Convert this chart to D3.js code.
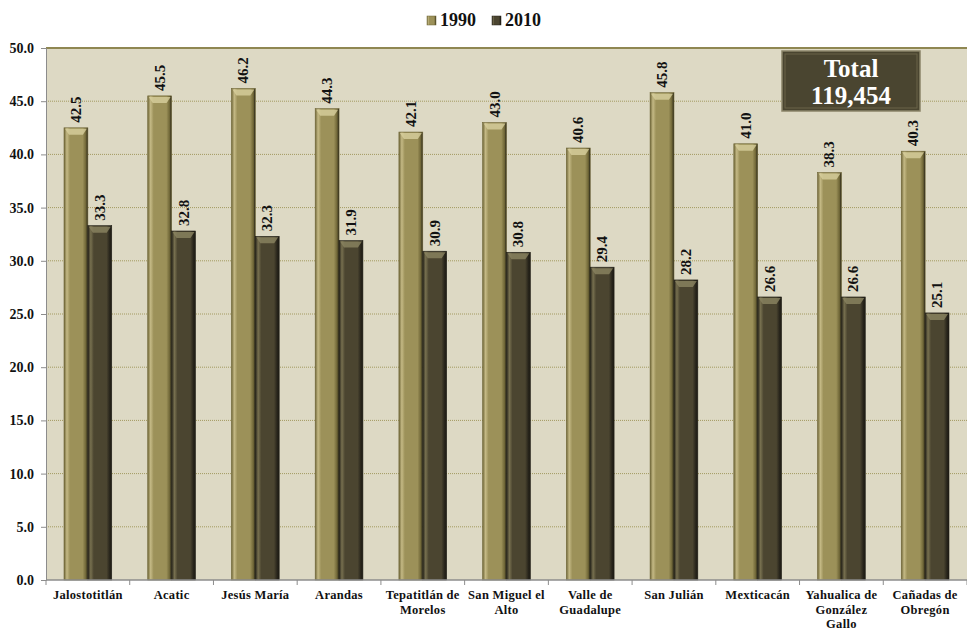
<!DOCTYPE html>
<html lang="es">
<head>
<meta charset="UTF-8">
<title>1990 / 2010</title>
<script src="https://d3js.org/d3.v7.min.js"></script>
<style>
  body { margin: 0; background: #fff; }
  text { font-family: "Liberation Serif", "Times New Roman", serif; font-weight: bold; }
</style>
</head>
<body>
<div class="canvas"></div>
<script>
  const categories = ['Jalostotitlán', 'Acatic', 'Jesús María', 'Arandas', 'Tepatitlán de Morelos',
    'San Miguel el Alto', 'Valle de Guadalupe', 'San Julián', 'Mexticacán',
    'Yahualica de González Gallo', 'Cañadas de Obregón']
  const series = ['1990', '2010']
  const v1990 = [42.5, 45.5, 46.2, 44.3, 42.1, 43.0, 40.6, 45.8, 41.0, 38.3, 40.3]
  const v2010 = [33.3, 32.8, 32.3, 31.9, 30.9, 30.8, 29.4, 28.2, 26.6, 26.6, 25.1]
  const yTicks = [0, 5, 10, 15, 20, 25, 30, 35, 40, 45, 50]
  const totalLines = ['Total', '119,454']

  const W = 967, H = 633
  const m = { left: 46, right: 0, top: 48, bottom: 53 }

  const svg = d3.select('.canvas').append('svg')
    .attr('width', W).attr('height', H)

  const defs = svg.append('defs')
  const colors = { '1990': ['#c4b985', '#9c9159', '#6e6536'], '2010': ['#77704f', '#4b4530', '#26231a'] }
  series.forEach(s => {
    const g = defs.append('linearGradient').attr('id', 'g' + s).attr('x1', 0).attr('x2', 1).attr('y1', 0).attr('y2', 0)
    g.append('stop').attr('offset', '0%').attr('stop-color', colors[s][2])
    g.append('stop').attr('offset', '12%').attr('stop-color', colors[s][0])
    g.append('stop').attr('offset', '25%').attr('stop-color', colors[s][1])
    g.append('stop').attr('offset', '78%').attr('stop-color', colors[s][1])
    g.append('stop').attr('offset', '92%').attr('stop-color', colors[s][2])
    g.append('stop').attr('offset', '100%').attr('stop-color', '#1e1c14')
  })

  const x0 = d3.scaleBand().domain(categories).range([m.left, W - m.right])
    .paddingInner(0.43).paddingOuter(0.215)
  const x1 = d3.scaleBand().domain(series).range([0, x0.bandwidth()])
  const y = d3.scaleLinear().domain([0, 50]).range([H - m.bottom, m.top])

  // plot area
  svg.append('rect')
    .attr('x', m.left).attr('y', m.top)
    .attr('width', W - m.left - m.right).attr('height', y(0) - m.top)
    .attr('fill', '#ddd9c4')

  // grid
  svg.append('g').selectAll('line').data(yTicks.filter(d => d > 0)).enter()
    .append('line')
    .attr('x1', m.left).attr('x2', W - m.right)
    .attr('y1', d => y(d)).attr('y2', d => y(d))
    .attr('stroke', d => d === 50 ? '#8f8752' : '#a39a60')
    .attr('stroke-width', d => d === 50 ? 2 : 1)
    .attr('stroke-dasharray', d => d === 50 ? null : '1,1')

  // y axis
  const yAxis = svg.append('g')
    .attr('transform', `translate(${m.left},0)`)
    .call(d3.axisLeft(y).tickValues(yTicks).tickFormat(d3.format('.1f')).tickSize(5).tickPadding(7))
  yAxis.select('.domain').attr('stroke', '#8c8c8c')
  yAxis.selectAll('.tick line').attr('stroke', '#8c8c8c')
  yAxis.selectAll('.tick text').attr('font-size', 14).attr('fill', '#111')
    .style('font-family', '"Liberation Serif", serif').style('font-weight', 'bold')

  // bars
  const data = series.map((s, i) => ({ s, vals: i === 0 ? v1990 : v2010 }))
  const groups = svg.append('g').selectAll('g').data(categories).enter()
    .append('g').attr('transform', d => `translate(${x0(d)},0)`)

  groups.each(function (c, ci) {
    const g = d3.select(this)
    data.forEach(ser => {
      const v = ser.vals[ci]
      const bx = x1(ser.s), bw = x1.bandwidth()
      g.append('rect')
        .attr('x', bx).attr('y', y(v))
        .attr('width', bw).attr('height', y(0) - y(v))
        .attr('fill', `url(#g${ser.s})`)
        .attr('stroke', ser.s === '1990' ? '#6e6536' : '#1f1d15').attr('stroke-width', 0.6)
      // top bevel
      g.append('path')
        .attr('d', `M${bx + 1},${y(v) + 1} L${bx + bw - 1},${y(v) + 1} L${bx + bw - 5},${y(v) + 7} L${bx + 5},${y(v) + 7} Z`)
        .attr('fill', ser.s === '1990' ? '#d8cf9e' : '#8b8462').attr('opacity', 0.8)
      g.append('text')
        .attr('transform', `translate(${bx + bw / 2 + 5},${y(v) - 5}) rotate(-90)`)
        .attr('text-anchor', 'start')
        .attr('font-size', 15).attr('fill', '#111')
        .text(v.toFixed(1))
    })
  })

  // x axis
  const xAxisY = y(0)
  svg.append('line').attr('x1', m.left).attr('x2', W).attr('y1', xAxisY).attr('y2', xAxisY)
    .attr('stroke', '#8c8c8c').attr('stroke-width', 1.5)
  const step = x0.step()
  svg.append('g').selectAll('line').data(d3.range(categories.length + 1)).enter()
    .append('line')
    .attr('x1', i => m.left + i * step).attr('x2', i => m.left + i * step)
    .attr('y1', xAxisY).attr('y2', xAxisY + 5)
    .attr('stroke', '#8c8c8c')

  const lbl = svg.append('g').selectAll('text').data(categories).enter()
    .append('text')
    .attr('x', d => x0(d) + x0.bandwidth() / 2)
    .attr('y', xAxisY + 19)
    .attr('text-anchor', 'middle').attr('font-size', 12.5).attr('fill', '#111')
    .attr('letter-spacing', 0.3)
    .text(d => d)
  lbl.each(function () { wrap(d3.select(this), 78) })

  function wrap(text, width) {
    const words = text.text().split(' ')
    const x = text.attr('x'), yy = text.attr('y')
    text.text(null)
    let line = [], ln = 0
    let ts = text.append('tspan').attr('x', x).attr('y', yy)
    words.forEach(w => {
      line.push(w)
      ts.text(line.join(' '))
      if (ts.node().getComputedTextLength() > width && line.length > 1) {
        line.pop()
        ts.text(line.join(' '))
        line = [w]
        ln++
        ts = text.append('tspan').attr('x', x).attr('y', +yy + ln * 14.5).text(w)
      }
    })
  }

  // legend
  const leg = svg.append('g').attr('transform', 'translate(427,11)')
  const legX = [0, 65]
  series.forEach((s, i) => {
    leg.append('rect').attr('x', legX[i]).attr('y', 5).attr('width', 9).attr('height', 9)
      .attr('fill', `url(#g${s})`).attr('stroke', colors[s][2]).attr('stroke-width', 0.5)
    leg.append('text').attr('x', legX[i] + 13).attr('y', 15)
      .attr('font-size', 18).attr('fill', '#111').text(s)
  })

  // total box
  const tb = svg.append('g').attr('transform', 'translate(782,51)')
  tb.append('rect').attr('width', 138).attr('height', 60).attr('fill', '#4a4530')
    .attr('stroke', '#8a8468').attr('stroke-width', 1.5)
  tb.append('rect').attr('x', 3).attr('y', 3).attr('width', 132).attr('height', 54)
    .attr('fill', 'none').attr('stroke', '#6a6448').attr('stroke-width', 1)
  tb.selectAll('text.t').data(totalLines).enter().append('text')
    .attr('x', 69).attr('y', (d, i) => 26 + i * 27)
    .attr('text-anchor', 'middle').attr('font-size', 25).attr('fill', '#fff')
    .text(d => d)
</script>
</body>
</html>
